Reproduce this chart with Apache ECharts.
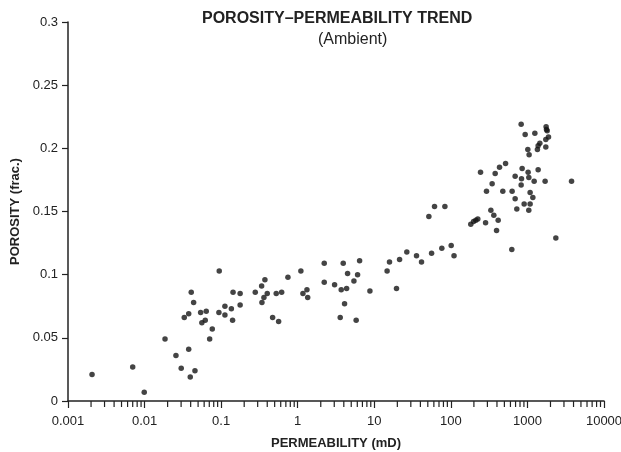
<!DOCTYPE html>
<html>
<head>
<meta charset="utf-8">
<script src="https://cdn.jsdelivr.net/npm/echarts@6/dist/echarts.min.js"></script>
<style>
	body { margin: 0; background: #fff; }
	#chartContainer { width: 621px; height: 452px; }
</style>
</head>
<body>
<div id="chartContainer"></div>
<script>
// 渗透率 (mD)
const permeability = [
	0.00206, 0.0070, 0.0099, 0.0185, 0.0257, 0.0301, 0.0377, 0.0395, 0.0455, 0.0407,
	0.0437, 0.033, 0.0377, 0.054, 0.0639, 0.056, 0.062, 0.0766, 0.0708, 0.0944,
	0.0935, 0.112, 0.112, 0.136, 0.141, 0.143, 0.177, 0.177, 0.279, 0.338,
	0.373, 0.40, 0.362, 0.341, 0.470, 0.563, 0.524, 0.617, 0.745, 1.10,
	1.17, 1.32, 1.35, 2.22, 2.22, 3.03, 3.93, 6.43, 4.48, 6.05,
	5.42, 3.70, 4.35, 4.09, 3.59, 5.80, 8.77, 14.7, 15.8, 19.5,
	21.4, 26.6, 35.6, 41.4, 56.0, 76.2, 101, 110, 51.6, 61.2,
	83.6, 182, 198, 212, 225, 284, 333, 364, 415, 395,
	625, 346, 292, 477, 631, 691, 727, 906, 1042, 1084,
	1084, 1177, 828, 934, 1250, 1754, 1774, 1810, 1885, 1738,
	1452, 1380, 1350, 1738, 1012, 1052, 518, 432, 379, 244,
	691, 853, 1021, 1043, 837, 828, 1224, 1380, 1702, 3767,
	2350
];
// 孔隙度 (frac.)
const porosity = [
	0.021, 0.027, 0.007, 0.049, 0.036, 0.026, 0.041, 0.019, 0.024, 0.086,
	0.078, 0.066, 0.069, 0.070, 0.071, 0.062, 0.064, 0.057, 0.049, 0.103,
	0.070, 0.075, 0.068, 0.073, 0.064, 0.086, 0.085, 0.076, 0.086, 0.091,
	0.096, 0.085, 0.082, 0.078, 0.066, 0.063, 0.085, 0.086, 0.098, 0.103,
	0.085, 0.088, 0.082, 0.109, 0.094, 0.092, 0.109, 0.111, 0.101, 0.100,
	0.095, 0.088, 0.089, 0.077, 0.066, 0.064, 0.087, 0.103, 0.110, 0.089,
	0.112, 0.118, 0.115, 0.110, 0.117, 0.121, 0.123, 0.115, 0.146, 0.154,
	0.154, 0.140, 0.142, 0.143, 0.144, 0.141, 0.151, 0.147, 0.143, 0.135,
	0.120, 0.172, 0.166, 0.166, 0.166, 0.160, 0.152, 0.156, 0.151, 0.156,
	0.165, 0.161, 0.219, 0.211, 0.212, 0.217, 0.215, 0.214, 0.209, 0.207,
	0.204, 0.202, 0.199, 0.201, 0.199, 0.195, 0.188, 0.185, 0.180, 0.181,
	0.178, 0.184, 0.181, 0.177, 0.176, 0.171, 0.174, 0.183, 0.174, 0.174,
	0.129
];
const xTicks = [0.001, 0.01, 0.1, 1, 10, 100, 1000, 10000];
const yTicks = [0, 0.05, 0.1, 0.15, 0.2, 0.25, 0.3];

// 对数轴的次刻度 (2..9 × 10^k)
const minorTicks = [];
xTicks.slice(0, -1).forEach(function (d) {
	for (let k = 2; k <= 9; k++) minorTicks.push([d * k, 0]);
});

const points = permeability.map(function (p, i) { return [p, porosity[i]]; });

const axisColor = '#222';
const font = 'Liberation Sans, Arial, sans-serif';

let chart = echarts.init(document.getElementById('chartContainer'));

const option = {
	animation: false,
	textStyle: { fontFamily: font },
	title: [{
		text: 'POROSITY–PERMEABILITY TREND',
		left: 197,
		top: 6,
		textStyle: { fontSize: 16, fontWeight: 'bold', color: '#222', fontFamily: font }
	}, {
		text: '(Ambient)',
		left: 313,
		top: 27,
		textStyle: { fontSize: 16, fontWeight: 'normal', color: '#222', fontFamily: font }
	}],
	grid: { left: 68, right: 17, top: 22, bottom: 51, outerBoundsMode: 'none', containLabel: false },
	xAxis: {
		type: 'log',
		logBase: 10,
		min: xTicks[0],
		max: xTicks[xTicks.length - 1],
		name: 'PERMEABILITY (mD)',
		nameLocation: 'middle',
		nameGap: 36,
		nameTextStyle: { fontSize: 13, fontWeight: 'bold', color: '#222' },
		axisLine: { lineStyle: { color: axisColor, width: 1.5 } },
		axisTick: { show: true, inside: false, length: 7, lineStyle: { color: axisColor, width: 1.2 } },
		axisLabel: {
			margin: 14,
			fontSize: 13,
			color: '#222',
			formatter: function (v) { return String(Number(v.toPrecision(3))); }
		},
		splitLine: { show: false }
	},
	yAxis: {
		type: 'value',
		min: yTicks[0],
		max: yTicks[yTicks.length - 1],
		interval: 0.05,
		name: 'POROSITY (frac.)',
		nameLocation: 'middle',
		nameGap: 46,
		nameRotate: 90,
		nameTextStyle: { fontSize: 13, fontWeight: 'bold', color: '#222' },
		axisLine: { show: true, lineStyle: { color: axisColor, width: 1.5 } },
		axisTick: { show: true, inside: false, length: 6, lineStyle: { color: axisColor, width: 1.2 } },
		axisLabel: {
			margin: 10,
			fontSize: 13,
			color: '#222',
			formatter: function (v) { return String(Number(v.toFixed(2))); }
		},
		splitLine: { show: false }
	},
	series: [{
		type: 'scatter',
		data: points,
		symbolSize: 5.5,
		itemStyle: { color: '#151515' },
		silent: true
	}, {
		// 次刻度
		type: 'custom',
		data: minorTicks,
		silent: true,
		clip: false,
		renderItem: function (params, api) {
			const p = api.coord([api.value(0), api.value(1)]);
			return {
				type: 'line',
				shape: { x1: p[0], y1: p[1], x2: p[0], y2: p[1] + 6 },
				style: { stroke: axisColor, lineWidth: 1.2 }
			};
		}
	}]
};

chart.setOption(option);
</script>
</body>
</html>
